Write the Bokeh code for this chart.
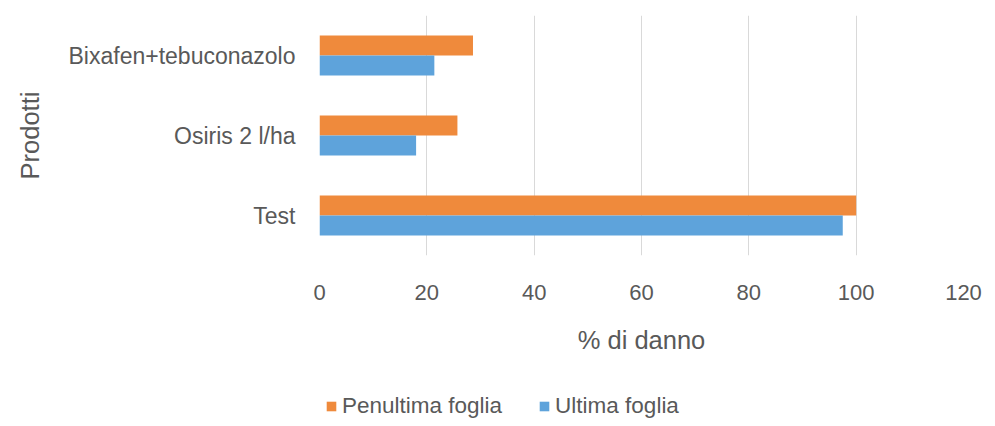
from bokeh.plotting import figure
from bokeh.layouts import column
from bokeh.models import ColumnDataSource, Range1d, FactorRange, FixedTicker, Legend, LegendItem
from bokeh.transform import dodge
from bokeh.embed import file_html
from bokeh.resources import INLINE

categories = ["Test", "Osiris 2 l/ha", "Bixafen+tebuconazolo"]
penultima_foglia = [100.0, 25.7, 28.6]
ultima_foglia = [97.5, 18.0, 21.4]
x_ticks = [0, 20, 40, 60, 80, 100, 120]
series_names = ["Penultima foglia", "Ultima foglia"]

ORANGE = "#EF8A3C"
BLUE = "#5EA3DB"
TEXT = "#595959"
GRID = "#D9D9D9"
FONT = "Liberation Sans"

src = ColumnDataSource(dict(cat=categories, pen=penultima_foglia, ult=ultima_foglia))

# ---- main chart ----
p = figure(width=995, height=385,
           y_range=FactorRange(*categories), x_range=Range1d(0, 120),
           output_backend="svg", toolbar_location=None,
           min_border_left=319, min_border_right=32, min_border_top=15, min_border_bottom=130)

p.hbar(y=dodge('cat', 0.125, range=p.y_range), left=0, right='pen', height=0.25,
       fill_color=ORANGE, line_color=None, source=src)
p.hbar(y=dodge('cat', -0.125, range=p.y_range), left=0, right='ult', height=0.25,
       fill_color=BLUE, line_color=None, source=src)

p.outline_line_color = None
p.background_fill_color = "white"
p.border_fill_color = "white"

p.xaxis.ticker = FixedTicker(ticks=x_ticks)
p.xgrid.ticker = FixedTicker(ticks=x_ticks)
p.xgrid.grid_line_color = GRID
p.xgrid.grid_line_width = 1
p.ygrid.grid_line_color = None
p.grid.level = "underlay"

for ax in (p.xaxis, p.yaxis):
    ax.axis_line_color = None
    ax.major_tick_line_color = None
    ax.minor_tick_line_color = None
    ax.major_label_text_color = TEXT
    ax.major_label_text_font = FONT
    ax.axis_label_text_color = TEXT
    ax.axis_label_text_font = FONT
    ax.axis_label_text_font_size = "25.5px"
    ax.axis_label_text_font_style = "normal"

p.xaxis.major_label_text_font_size = "22px"
p.yaxis.major_label_text_font_size = "23px"

p.xaxis.axis_label = "% di danno"
p.xaxis.major_label_standoff = 23
p.xaxis.axis_label_standoff = 23

p.yaxis.axis_label = "Prodotti"
p.yaxis.major_label_standoff = 18
p.yaxis.axis_label_standoff = 22

# ---- legend strip (same series; its bars have no height and lie outside the range) ----
leg = figure(width=995, height=41,
             y_range=FactorRange(*categories), x_range=Range1d(1000, 1100),
             output_backend="svg", toolbar_location=None,
             x_axis_location=None, y_axis_location=None, min_border=0)
leg.outline_line_color = None
leg.grid.visible = False
leg.background_fill_color = "white"
leg.border_fill_color = "white"

lr_pen = leg.hbar(y='cat', left=0, right='pen', height=0,
                  fill_color=ORANGE, line_color=None, source=src)
lr_ult = leg.hbar(y='cat', left=0, right='ult', height=0,
                  fill_color=BLUE, line_color=None, source=src)

legend = Legend(items=[LegendItem(label=series_names[0], renderers=[lr_pen]),
                       LegendItem(label=series_names[1], renderers=[lr_ult])],
                orientation="horizontal", location=(6, 5),
                glyph_width=12, glyph_height=12, label_height=30, label_standoff=5, spacing=36,
                padding=0, margin=0, border_line_color=None, background_fill_alpha=0,
                label_text_font=FONT, label_text_font_size="22.5px", label_text_color=TEXT)
leg.add_layout(legend, "center")

layout = column(p, leg, spacing=0)
open("out.html", "w").write(file_html(layout, INLINE))
